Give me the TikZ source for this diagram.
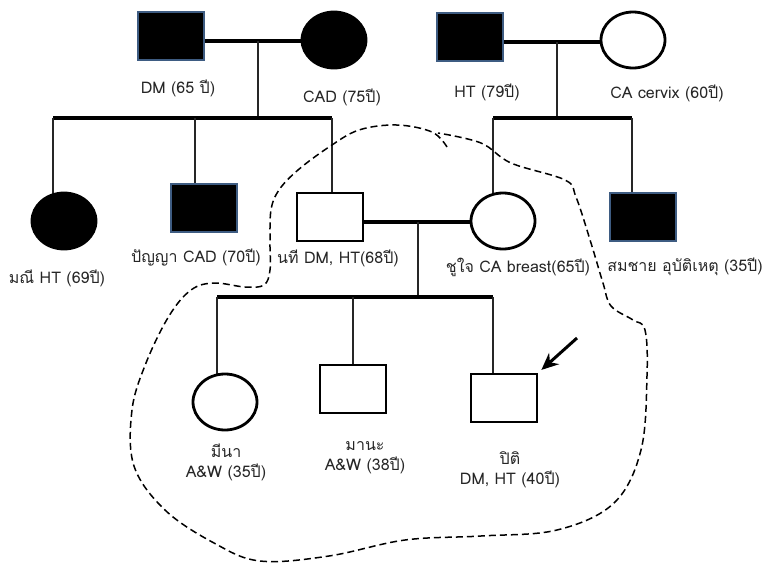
\documentclass[tikz,border=0pt]{standalone}
\usepackage{fontspec}
\setmainfont{Loma}[Script=Thai]
\usetikzlibrary{shapes.geometric,backgrounds,arrows.meta}
\definecolor{rimblue}{RGB}{62,92,130}

\begin{document}
\begin{tikzpicture}[>={Stealth[length=17pt,width=15pt]}, x=1pt, y=-1pt,
  male/.style={draw, fill=white, line width=2.8pt, minimum width=66pt, minimum height=48pt, inner sep=0pt},
  female/.style={draw, fill=white, ellipse, line width=2.8pt, minimum width=64pt, minimum height=56pt, inner sep=0pt},
  affmale/.style={male, fill=black, draw=rimblue},
  afffemale/.style={female, fill=black, draw=black},
  bar/.style={line width=3.2pt},
  drop/.style={line width=2.2pt, black!85},
  lbl/.style={font=\fontsize{16}{20}\selectfont, text=black!85, inner sep=0pt, align=center}]

\useasboundingbox (0,0) rectangle (769,563);

% first generation
\node[affmale] (dm) at (171,36) {};
\node[afffemale] (cad) at (334,40) {};
\node[affmale] (ht) at (470,37) {};
\node[female] (cervix) at (633,40) {};

% second generation
\node[afffemale] (manee) at (64,221) {};
\node[affmale] (panya) at (204,208) {};
\node[male] (nathi) at (330,217) {};
\node[female] (chujai) at (503,221) {};
\node[affmale] (somchai) at (643,217) {};

% third generation
\node[female] (meena) at (225,402) {};
\node[male] (mana) at (353,389) {};
\node[male] (piti) at (504,398) {};

\coordinate (ma) at (258,41);
\coordinate (sa) at (258,118);
\coordinate (sal) at (53,118);
\coordinate (sam) at (195,118);
\coordinate (sar) at (332,118);
\coordinate (mb) at (557,42);
\coordinate (sb) at (557,118);
\coordinate (sbl) at (493,118);
\coordinate (sbr) at (632,118);
\coordinate (mc) at (418,222);
\coordinate (sc) at (418,297);
\coordinate (scl) at (217,297);
\coordinate (scm) at (353,297);
\coordinate (scr) at (493,297);
\coordinate (pointer) at (577,338);

\begin{scope}[on background layer]
\draw[bar] (dm |- ma)--(cad |- ma);
\draw[drop] (ma)--(sa);
\draw[bar] (sal)--(sar);
\draw[drop] (sal)--(sal |- manee.center);
\draw[drop] (sam)--(sam |- panya.center);
\draw[drop] (sar)--(sar |- nathi.center);

\draw[bar] (ht |- mb)--(cervix |- mb);
\draw[drop] (mb)--(sb);
\draw[bar] (sbl)--(sbr);
\draw[drop] (sbl)--(sbl |- chujai.center);
\draw[drop] (sbr)--(sbr |- somchai.center);

\draw[bar] (nathi |- mc)--(chujai |- mc);
\draw[drop] (mc)--(sc);
\draw[bar] (scl)--(scr);
\draw[drop] (scl)--(scl |- meena.center);
\draw[drop] (scm)--(scm |- mana.center);
\draw[drop] (scr)--(scr |- piti.center);
\end{scope}

\draw[->, line width=3pt, shorten >=4pt] (pointer)--(piti.north east);

% labels
\node[lbl] (ldm) at (178,88) {DM (65 ปี)};
\node[lbl] (lcad) at (342,97) {CAD (75ปี)};
\node[lbl] (lht) at (487,92) {HT (79ปี)};
\node[lbl] (lcervix) at (667,93) {CA cervix (60ปี)};
\node[lbl] (lmanee) at (57,278) {มณี HT (69ปี)};
\node[lbl] (lpanya) at (196,258) {ปัญญา CAD (70ปี)};
\node[lbl] (lnathi) at (338,258) {นที DM, HT(68ปี)};
\node[lbl] (lchujai) at (518,267) {ชูใจ CA breast(65ปี)};
\node[lbl] (lsomchai) at (685,267) {สมชาย อุบัติเหตุ (35ปี)};
\node[lbl] (lmeena) at (226,462) {มีนา\\A\&W (35ปี)};
\node[lbl] (lmana) at (365,458) {มานะ\\A\&W (38ปี)};
\node[lbl] (lpiti) at (510,470) {ปิติ\\DM, HT (40ปี)};

% family circle
\draw[line width=1.5pt, dash pattern=on 7pt off 4pt] plot[smooth, tension=0.6] coordinates {
  (447,147) (432,132) (397,125) (359,130) (329,147) (298,170) (279,190)
  (271,210) (270,243) (270,270) (264,285) (245,287) (214,283) (191,290)
  (169,316) (146,363) (132,410) (134,466) (165,510) (214,543) (260,561)
  (329,556) (405,540) (481,536) (557,530) (614,503) (641,450) (647,376)
  (645,330) (633,320) (611,306) (603,283) (591,243) (576,197) (565,180)
  (511,163) (481,143) (438,133)};

\end{tikzpicture}
\end{document}
